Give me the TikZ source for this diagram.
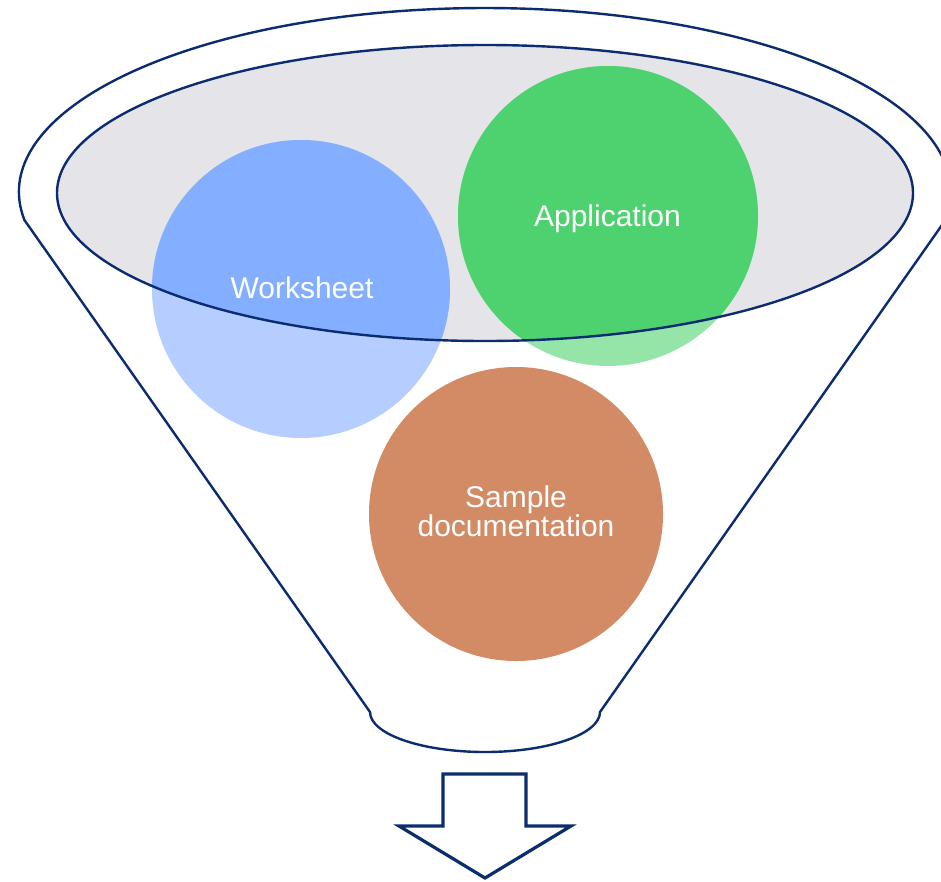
\documentclass[tikz,border=0pt]{standalone}
\usepackage{fontspec}
\setmainfont{Liberation Sans}
\definecolor{navy}{HTML}{0B2C6F}
\definecolor{ellgray}{HTML}{E4E4E9}
\definecolor{blueL}{HTML}{B5CEFF}
\definecolor{blueD}{HTML}{84AEFF}
\definecolor{greenL}{HTML}{95E4A8}
\definecolor{greenD}{HTML}{4ED270}
\definecolor{orangeC}{HTML}{D38B66}
\begin{document}
\begin{tikzpicture}[x=0.75pt,y=-0.75pt,
  outline/.style={draw=navy, line width=1.8pt},
  bub/.style={circle, inner sep=0pt, draw=none},
  lbl/.style={text=white, font=\fontsize{22.5}{22}\selectfont, align=center}]
\useasboundingbox (0,0) rectangle (941,881);
% funnel body
\draw[outline, fill=white] (24.4,220)
  arc[start angle=188.75, end angle=-8.75, x radius=349.5pt, y radius=138pt]
  -- (600,712)
  arc[start angle=0, end angle=-180, x radius=86.25pt, y radius=30pt]
  -- cycle;
% inner ellipse fill
\fill[ellgray] (485,193) ellipse [x radius=321pt, y radius=111pt];
% circles (outside part)
\node[bub, fill=blueL, minimum size=223.5pt] (ws) at (301,289) {};
\node[bub, fill=greenL, minimum size=225pt] (app) at (608,216) {};
\node[bub, fill=orangeC, minimum size=220.5pt] (doc) at (516,514) {};
% circles (part inside the ellipse)
\begin{scope}
  \clip (485,193) ellipse [x radius=321pt, y radius=111pt];
  \node[bub, fill=blueD, minimum size=223.5pt] (wsin) at (301,289) {};
  \node[bub, fill=greenD, minimum size=225pt] (appin) at (608,216) {};
\end{scope}
% inner ellipse outline
\draw[outline] (485,193) ellipse [x radius=321pt, y radius=111pt];
% labels
\node[lbl, anchor=base] (wst) at (302,298) {Worksheet};
\node[lbl, anchor=base] (appt) at (607.5,226) {Application};
\node[lbl, anchor=center] (doct) at (516,511) {Sample\\documentation};
% arrow
\draw[draw=navy, line width=2.4pt, fill=white]
  (443,774) -- (526,774) -- (526,826) -- (571,826) -- (485,878)
  -- (399,826) -- (443,826) -- cycle;
\end{tikzpicture}
\end{document}
